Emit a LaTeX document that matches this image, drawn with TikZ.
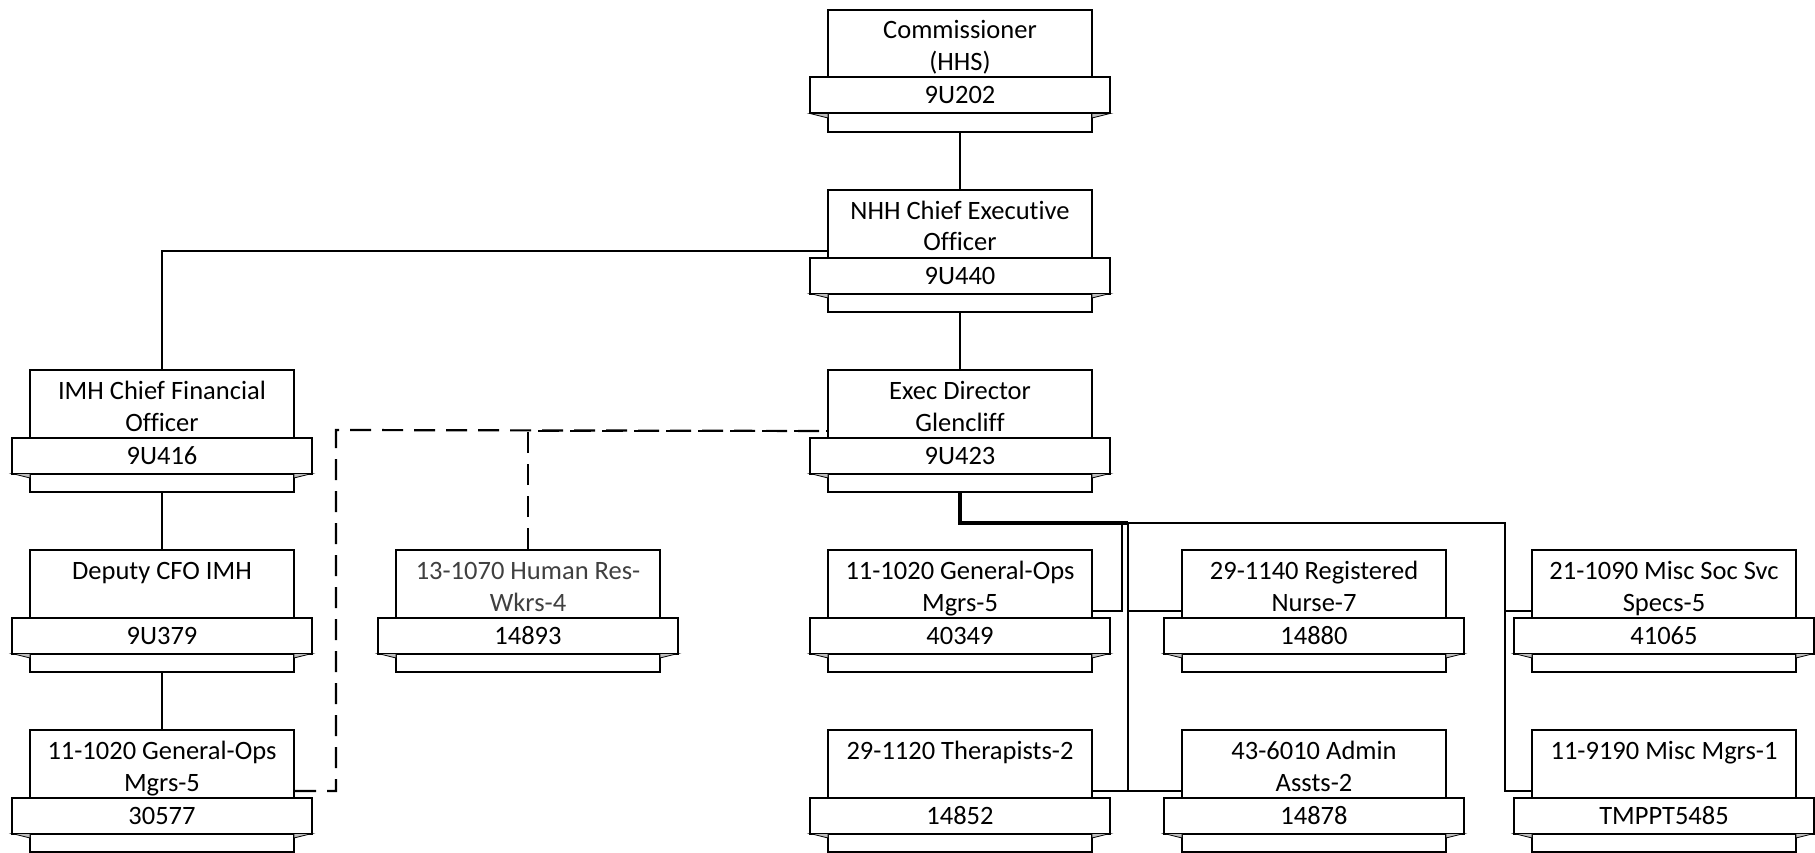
\documentclass[tikz,border=0pt]{standalone}
\usepackage{fontspec}
\setmainfont[Ligatures=NoCommon]{Carlito}
\definecolor{hrgray}{RGB}{64,64,64}
\definecolor{foldgray}{RGB}{190,190,190}
\tikzset{
  mainbox/.style={draw=black, fill=white, line width=2pt, minimum width=264pt, minimum height=122pt, inner sep=0pt, anchor=north},
  bannerbox/.style={draw=black, fill=white, line width=2pt, minimum width=300pt, minimum height=36pt, inner sep=0pt},
  txt/.style={anchor=base, inner sep=0pt, font=\fontsize{26.5}{32}\selectfont},
  conn/.style={draw=black, line width=2.2pt},
  dashconn/.style={draw=black, line width=2.2pt, dash pattern=on 21pt off 11pt},
  trunk/.style={draw=black, line width=4pt},
  fold/.style={fill=foldgray, draw=black, line width=0.8pt, line join=miter}
}
\newcommand\orgunit[7]{%
  \node[mainbox] (#1) at (#2,#3) {};
  \node[bannerbox] (#1b) at (#2,#3+86.5) {};
  \filldraw[fold] (#2-150,#3+104.5) -- (#2-132,#3+104.5) -- (#2-132,#3+109) -- cycle;
  \filldraw[fold] (#2+150,#3+104.5) -- (#2+132,#3+104.5) -- (#2+132,#3+109) -- cycle;
  \node[txt, text=#7] (#1ta) at (#2,#3+30) {#4};
  \if\relax\detokenize{#5}\relax\else
    \node[txt, text=#7] (#1tb) at (#2,#3+62) {#5};
  \fi
  \node[txt] (#1n) at (#2,#3+95) {#6};
}
\begin{document}
\begin{tikzpicture}[x=1pt,y=-1pt]
\useasboundingbox (0,0) rectangle (1815,853);
% row 1-3
\orgunit{comm}{960}{9}{Commissioner}{(HHS)}{9U202}{black}
\orgunit{nhh}{960}{189}{NHH Chief Executive}{Officer}{9U440}{black}
\orgunit{imh}{162}{369}{IMH Chief Financial}{Officer}{9U416}{black}
\orgunit{exec}{960}{369}{Exec Director}{Glencliff}{9U423}{black}
% row 4
\orgunit{dep}{162}{549}{Deputy CFO IMH}{}{9U379}{black}
\orgunit{hr}{528}{549}{13-1070 Human Res-}{Wkrs-4}{14893}{hrgray}
\orgunit{gops}{960}{549}{11-1020 General-Ops}{Mgrs-5}{40349}{black}
\orgunit{rn}{1314}{549}{29-1140 Registered}{Nurse-7}{14880}{black}
\orgunit{soc}{1664}{549}{21-1090 Misc Soc Svc}{Specs-5}{41065}{black}
% row 5
\orgunit{gopsa}{162}{729}{11-1020 General-Ops}{Mgrs-5}{30577}{black}
\orgunit{ther}{960}{729}{29-1120 Therapists-2}{}{14852}{black}
\orgunit{adm}{1314}{729}{43-6010 Admin}{Assts-2}{14878}{black}
\orgunit{mgr}{1664}{729}{11-9190 Misc Mgrs-1}{}{TMPPT5485}{black}
% bend coordinates
\coordinate (jc) at (1122,523);
\coordinate (jd) at (1128,523);
\coordinate (je) at (1505,523);
\coordinate (dj) at (336,430);
% connectors
\draw[conn] (comm.south) -- (nhh.north);
\draw[conn] (nhh.south) -- (exec.north);
\draw[conn] (nhh.west) -| (imh.north);
\draw[conn] (imh.south) -- (dep.north);
\draw[conn] (dep.south) -- (gopsa.north);
\draw[dashconn] (hr.north) |- (exec.west);
\draw[dashconn] (gopsa.east) -| (dj) -- (exec.west);
\draw[trunk] (exec.south) |- (jd);
\draw[conn] (exec.south) |- (jc) |- (gops.east);
\draw[conn] (exec.south) |- (jd) |- (ther.east);
\draw[conn] (exec.south) |- (jd) |- (rn.west);
\draw[conn] (exec.south) |- (jd) |- (adm.west);
\draw[conn] (exec.south) |- (je) |- (soc.west);
\draw[conn] (exec.south) |- (je) |- (mgr.west);
\end{tikzpicture}
\end{document}
